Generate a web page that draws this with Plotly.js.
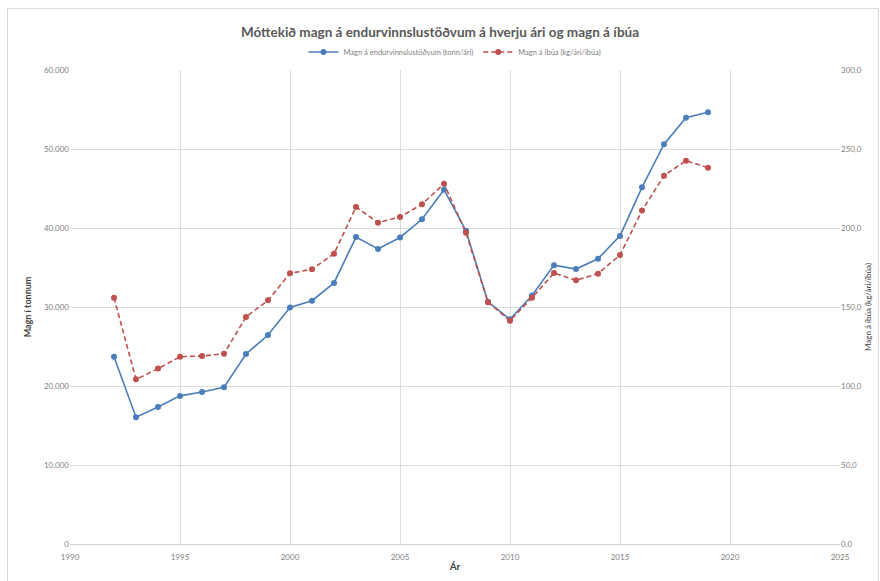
<!DOCTYPE html>
<html>
<head>
<meta charset="utf-8">
<script src="https://cdn.plot.ly/plotly-3.0.1.min.js"></script>
<style>
  html, body { margin: 0; padding: 0; background: #fff; }
  #frame { position: absolute; left: 7px; top: 8px; width: 872px; height: 580px; border: 1px solid #d9d9d9; box-sizing: border-box; pointer-events: none; }
  #chart { width: 880px; height: 581px; }
</style>
</head>
<body>
<div id="chart"></div>
<div id="frame"></div>
<script>
const years = [1992,1993,1994,1995,1996,1997,1998,1999,2000,2001,2002,2003,2004,2005,2006,2007,2008,2009,2010,2011,2012,2013,2014,2015,2016,2017,2018,2019];
const tonnPerYear = [23700,16050,17350,18750,19250,19850,24050,26450,29950,30800,33050,38850,37350,38800,41100,44850,39650,30650,28450,31450,35300,34800,36100,39000,45150,50600,53950,54650];
const kgPerCapita = [155.9,104.2,111.0,118.5,119.0,120.4,143.7,154.2,171.3,173.9,183.7,213.3,203.4,207.0,215.0,228.0,197.0,153.0,141.3,155.9,171.5,166.9,171.1,182.9,211.0,233.1,242.6,238.2];
const seriesNames = ["Magn á endurvinnslustöðvum (tonn/ári)", "Magn á íbúa (kg/ári/íbúa)"];
const leftTicks = [0,10000,20000,30000,40000,50000,60000];
const rightTicks = [0,50,100,150,200,250,300];
const xTicks = [1990,1995,2000,2005,2010,2015,2020,2025];

const FONT = "Lato, 'Open Sans', sans-serif";
const traces = [
  {
    x: years, y: tonnPerYear, name: seriesNames[0], type: "scatter", mode: "lines+markers",
    line: { color: "#4a7ebb", width: 1.6 },
    marker: { color: "#4a7ebb", size: 6 },
    yaxis: "y"
  },
  {
    x: years, y: kgPerCapita, name: seriesNames[1], type: "scatter", mode: "lines+markers",
    line: { color: "#c0504d", width: 1.6, dash: "5px,3px" },
    marker: { color: "#c0504d", size: 6 },
    yaxis: "y2"
  }
];

const layout = {
  width: 880, height: 581,
  margin: { l: 70, r: 40, t: 70, b: 37 },
  paper_bgcolor: "#fff", plot_bgcolor: "#fff",
  separators: ",.",
  font: { family: FONT, size: 8, color: "#7f7f7f" },
  showlegend: true,
  title: {
    text: "<b>Móttekið magn á endurvinnslustöðvum á hverju ári og magn á íbúa</b>",
    font: { family: FONT, size: 13.5, color: "#595959" },
    x: 0.5, xanchor: "center", y: 0.945, yanchor: "middle"
  },
  legend: {
    orientation: "h", x: 0.5, xanchor: "center", y: 1.038, yanchor: "middle",
    font: { family: FONT, size: 7.5, color: "#7f7f7f" },
    itemwidth: 30, tracegroupgap: 0
  },
  xaxis: {
    range: [1990, 2025], tickvals: xTicks, ticktext: xTicks.map(String),
    showgrid: true, gridcolor: "#dcdcdc", gridwidth: 1,
    zeroline: false, showline: true, linecolor: "#d0d0d0",
    ticks: "outside", ticklen: 5, tickcolor: "rgba(0,0,0,0)",
    tickfont: { family: FONT, size: 8, color: "#7f7f7f" },
    title: { text: "<b>Ár</b>", font: { family: FONT, size: 10, color: "#404040" }, standoff: 2 }
  },
  yaxis: {
    range: [0, 60000], tickvals: leftTicks, tickformat: ",d",
    showgrid: true, gridcolor: "#dcdcdc", gridwidth: 1,
    zeroline: false, showline: false, ticks: "",
    tickfont: { family: FONT, size: 8, color: "#7f7f7f" },
    title: { text: "<b>Magn í tonnum</b>", font: { family: FONT, size: 9, color: "#404040" }, standoff: 10 }
  },
  yaxis2: {
    range: [0, 300], tickvals: rightTicks, tickformat: ".1f",
    overlaying: "y", side: "right",
    showgrid: false, zeroline: false, showline: false, ticks: "",
    tickfont: { family: FONT, size: 8, color: "#7f7f7f" },
    title: { text: "Magn á íbúa (kg/ári/íbúa)", font: { family: FONT, size: 8, color: "#404040" }, standoff: 4 }
  }
};

Plotly.newPlot("chart", traces, layout, { staticPlot: true, displayModeBar: false });
</script>
</body>
</html>
